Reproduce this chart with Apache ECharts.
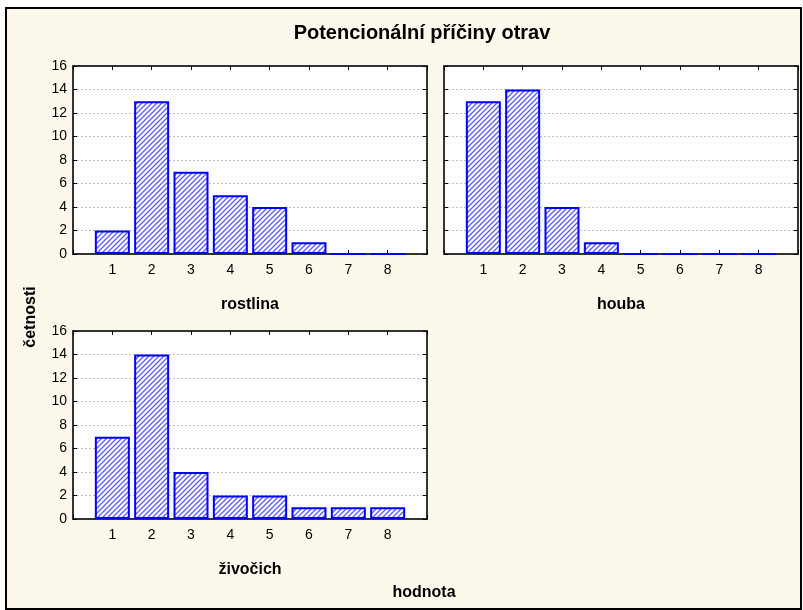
<!DOCTYPE html>
<html>
<head>
<meta charset="utf-8">
<script src="https://cdn.jsdelivr.net/npm/echarts@6/dist/echarts.min.js"></script>
<style>
  html, body { margin: 0; padding: 0; background: #ffffff; }
  #chart { width: 803px; height: 610px; }
</style>
</head>
<body>
<div id="chart"></div>
<script>
// Frequency counts for each value 1..8, per poisoning source
const categories = [1, 2, 3, 4, 5, 6, 7, 8];
const rostlina = [2, 13, 7, 5, 4, 1, 0, 0];
const houba = [13, 14, 4, 1, 0, 0, 0, 0];
const zivocich = [7, 14, 4, 2, 2, 1, 1, 1];
const yTicks = [0, 2, 4, 6, 8, 10, 12, 14, 16];

const panels = [
  { name: 'rostlina', values: rostlina, left: 73, top: 66 },
  { name: 'houba', values: houba, left: 444, top: 66 },
  { name: 'živočich', values: zivocich, left: 73, top: 331 }
];

// diagonal hatch fill used by every bar
function hatch() {
  const c = document.createElement('canvas');
  c.width = 5; c.height = 5;
  const g = c.getContext('2d');
  g.fillStyle = '#ffffff';
  g.fillRect(0, 0, 5, 5);
  g.strokeStyle = '#5c5cff';
  g.lineWidth = 1.3;
  g.beginPath();
  g.moveTo(-1, 6); g.lineTo(6, -1);
  g.moveTo(-4, 4); g.lineTo(4, -4);
  g.moveTo(1, 9); g.lineTo(9, 1);
  g.stroke();
  return c;
}
const pattern = { image: hatch(), repeat: 'repeat' };

const FONT = 'Liberation Sans, Arial, sans-serif';
const axisColor = '#333333';
const line = { show: true, onZero: false, lineStyle: { color: axisColor, width: 2 } };
const tick = { show: true, inside: true, length: 4, lineStyle: { color: '#000' } };
const grids = [], xAxes = [], yAxes = [], series = [];

panels.forEach((p, i) => {
  grids.push({
    left: p.left, top: p.top, width: 354, height: 188, containLabel: false,
    show: true, backgroundColor: '#ffffff', borderWidth: 0
  });
  // bottom axis with labels
  xAxes.push({
    type: 'value', gridIndex: i, min: 0, max: 9, interval: 1, position: 'bottom',
    axisLine: line,
    axisTick: tick,
    axisLabel: {
      color: '#000', fontFamily: FONT, fontSize: 14, margin: 9,
      formatter: v => (categories.indexOf(v) >= 0 ? String(v) : '')
    },
    splitLine: { show: false },
    name: p.name, nameLocation: 'middle', nameGap: 43,
    nameTextStyle: { color: '#000', fontFamily: FONT, fontSize: 16, fontWeight: 'bold' }
  });
  // top axis, ticks only
  xAxes.push({
    type: 'value', gridIndex: i, min: 0, max: 9, interval: 1, position: 'top',
    axisLine: line,
    axisTick: tick,
    axisLabel: { show: false }, splitLine: { show: false }
  });
  yAxes.push({
    type: 'value', gridIndex: i, min: yTicks[0], max: yTicks[yTicks.length - 1], interval: 2,
    position: 'left',
    axisLine: line,
    axisTick: tick,
    axisLabel: {
      show: i !== 1, color: '#000', fontFamily: FONT, fontSize: 14, margin: 6
    },
    splitLine: { show: true, lineStyle: { color: '#c0c0c0', type: [2, 2], width: 1 } }
  });
  yAxes.push({
    type: 'value', gridIndex: i, min: yTicks[0], max: yTicks[yTicks.length - 1], interval: 2,
    position: 'right',
    axisLine: line,
    axisTick: tick,
    axisLabel: { show: false }, splitLine: { show: false }
  });
  series.push({
    type: 'bar',
    xAxisIndex: i * 2, yAxisIndex: i * 2,
    barWidth: 35,
    data: categories.map((c, k) => [c, p.values[k]]),
    itemStyle: { color: pattern, borderColor: '#0000ff', borderWidth: 2 },
    silent: true,
    animation: false
  });
});

const chart = echarts.init(document.getElementById('chart'), null, { renderer: 'canvas' });
chart.setOption({
  animation: false,
  backgroundColor: '#ffffff',
  graphic: [
    {
      type: 'rect', z: -10, silent: true,
      shape: { x: 6, y: 8, width: 795, height: 601 },
      style: { fill: '#fdf8ec', stroke: '#000000', lineWidth: 2 }
    },
    {
      type: 'text', silent: true, x: 422, y: 33,
      style: { text: 'Potencionální příčiny otrav', fill: '#000', font: 'bold 20px ' + FONT, align: 'center', verticalAlign: 'middle' }
    },
    {
      type: 'text', silent: true, x: 31, y: 317, rotation: Math.PI / 2,
      style: { text: 'četnosti', fill: '#000', font: 'bold 16px ' + FONT, align: 'center', verticalAlign: 'middle' }
    },
    {
      type: 'text', silent: true, x: 424, y: 593,
      style: { text: 'hodnota', fill: '#000', font: 'bold 16px ' + FONT, align: 'center', verticalAlign: 'middle' }
    }
  ],
  grid: grids,
  xAxis: xAxes,
  yAxis: yAxes,
  series: series
});
</script>
</body>
</html>
